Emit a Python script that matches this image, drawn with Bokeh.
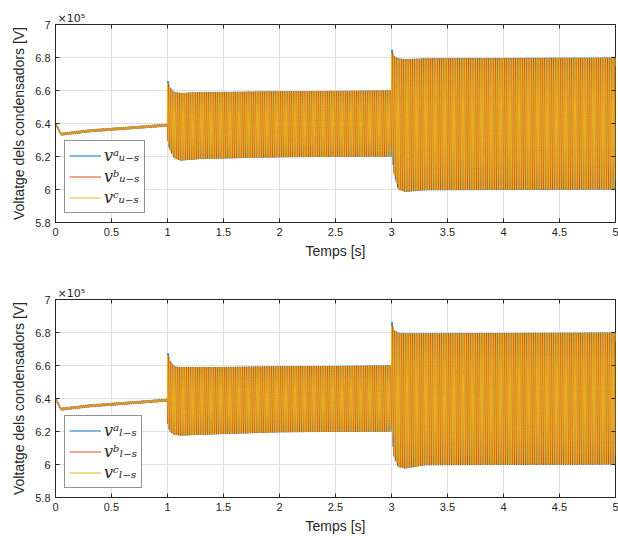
import numpy as np
from bokeh.plotting import figure
from bokeh.layouts import column
from bokeh.models import (FixedTicker, CustomJSTickFormatter, Legend, LegendItem,
                          LinearAxis, Range1d)
from bokeh.embed import file_html
from bokeh.resources import INLINE

# --- simulation settings -------------------------------------------------
t_end = 5.0          # s
f_grid = 50.0        # Hz, ripple frequency of the capacitor voltages
samples_per_cycle = 20
phase_shift_deg = [0.0, -120.0, 120.0]

# --- envelope breakpoints of the capacitor voltages [V] ------------------
env_t = [0.0, 0.05, 0.3, 0.6, 0.999, 1.0, 1.02, 1.06, 1.12, 1.3, 2.0, 2.999,
         3.0, 3.02, 3.06, 3.12, 3.3, 5.0]

upper_u = [640800, 634300, 636300, 637800, 639800, 667000, 662000, 659000,
           658500, 659000, 659500, 660000, 686000, 681000, 679500, 679000,
           679500, 680000]
lower_u = [639200, 632700, 634700, 636200, 638200, 630000, 624000, 619000,
           617500, 618500, 619500, 620000, 630000, 610000, 600000, 598500,
           599500, 600000]

upper_l = [640800, 634300, 636300, 637800, 639800, 669000, 663000, 659500,
           659000, 659000, 659500, 660000, 688000, 681500, 680000, 679500,
           679500, 680000]
lower_l = [639200, 632700, 634700, 636200, 638200, 625000, 620000, 618000,
           617500, 618000, 619500, 620000, 628000, 605000, 598500, 597500,
           599500, 600000]

labels_u = ["vᵃᵤ₋ₛ", "vᵇᵤ₋ₛ", "vᶜᵤ₋ₛ"]
labels_l = ["vᵃₗ₋ₛ", "vᵇₗ₋ₛ", "vᶜₗ₋ₛ"]

x_ticks = [0, 0.5, 1, 1.5, 2, 2.5, 3, 3.5, 4, 4.5, 5]
y_ticks = [580000, 600000, 620000, 640000, 660000, 680000, 700000]

colors = ["#0072BD", "#D95319", "#EDB120"]
ink = "#262626"
grid = "#e0e0e0"
font = "Liberation Sans"


def phase_voltages(upper, lower):
    """Three 50 Hz phase ripples riding between the given envelopes."""
    t = np.linspace(0.0, t_end, int(t_end * f_grid * samples_per_cycle) + 1)
    up = np.interp(t, env_t, upper)
    lo = np.interp(t, env_t, lower)
    mid = 0.5 * (up + lo)
    amp = 0.5 * (up - lo)
    out = []
    for ph in phase_shift_deg:
        out.append(mid + amp * np.sin(2 * np.pi * f_grid * t + np.radians(ph)))
    return t, out


def box_axis(ticks):
    """Unlabelled axis that only draws inward ticks on the box edge."""
    return LinearAxis(ticker=FixedTicker(ticks=ticks), axis_line_color=None,
                      major_tick_in=4, major_tick_out=0, major_tick_line_color=ink,
                      minor_tick_line_color=None, major_label_text_font_size="1px",
                      major_label_text_color=None, major_label_standoff=0)


def make_panel(upper, lower, labels, top, bottom):
    p = figure(width=618, height=top + 198 + bottom,
               x_range=Range1d(0, 5), y_range=Range1d(580000, 700000),
               output_backend="svg", toolbar_location=None,
               min_border_left=55, min_border_right=3,
               min_border_top=top, min_border_bottom=bottom,
               background_fill_color="white", border_fill_color="white")
    p.outline_line_color = ink
    p.outline_line_width = 1

    # exponent marker above the y axis
    p.title.text = "×10⁵"
    p.title.align = "left"
    p.title.text_font = "DejaVu Sans"
    p.title.text_font_size = "11px"
    p.title.text_font_style = "normal"
    p.title.text_color = ink
    p.title.offset = 2
    p.title.standoff = 0

    t, series = phase_voltages(upper, lower)
    renderers = []
    for v, c in zip(series, colors):
        renderers.append(p.line(t, v, line_color=c, line_width=1))

    # axes
    p.xaxis.ticker = FixedTicker(ticks=x_ticks)
    p.yaxis.ticker = FixedTicker(ticks=y_ticks)
    p.yaxis.formatter = CustomJSTickFormatter(
        code="return (tick / 1e5).toFixed(1).replace(/\\.0$/, '');")
    for ax in (p.xaxis[0], p.yaxis[0]):
        ax.axis_line_color = ink
        ax.major_tick_line_color = ink
        ax.major_tick_in = 4
        ax.major_tick_out = 0
        ax.minor_tick_line_color = None
        ax.major_label_text_font = font
        ax.major_label_text_font_size = "11px"
        ax.major_label_text_color = ink
        ax.axis_label_text_font = font
        ax.axis_label_text_font_size = "14px"
        ax.axis_label_text_font_style = "normal"
        ax.axis_label_text_color = ink
    p.xaxis.axis_label = "Temps [s]"
    p.xaxis.major_label_standoff = 5
    p.xaxis.axis_label_standoff = 4
    p.yaxis.axis_label = "Voltatge dels condensadors [V]"
    p.yaxis.major_label_standoff = 5
    p.yaxis.axis_label_standoff = 5

    # tick marks on the top and right edges of the box
    p.add_layout(box_axis(x_ticks), "above")
    p.add_layout(box_axis(y_ticks), "right")

    p.xgrid.ticker = FixedTicker(ticks=x_ticks)
    p.ygrid.ticker = FixedTicker(ticks=y_ticks)
    p.xgrid.grid_line_color = grid
    p.ygrid.grid_line_color = grid

    legend = Legend(items=[LegendItem(label=lab, renderers=[r])
                           for lab, r in zip(labels, renderers)],
                    location=(9, 9), padding=4, spacing=0, margin=0,
                    glyph_width=32, glyph_height=21, label_height=21,
                    label_standoff=3,
                    label_text_font="DejaVu Serif",
                    label_text_font_style="italic",
                    label_text_font_size="16px", label_text_color=ink,
                    border_line_color=ink, border_line_width=1,
                    background_fill_color="white", background_fill_alpha=1)
    p.add_layout(legend, "center")
    return p


p_top = make_panel(upper_u, lower_u, labels_u, 24, 48)
p_bot = make_panel(upper_l, lower_l, labels_l, 29, 43)

layout = column(p_top, p_bot, spacing=0)
open("out.html", "w").write(file_html(layout, INLINE))
